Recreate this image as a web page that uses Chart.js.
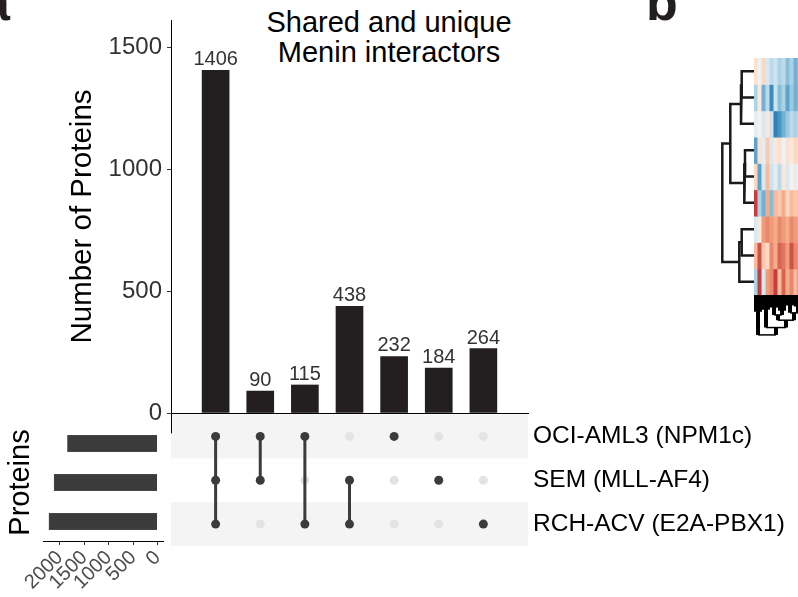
<!DOCTYPE html>
<html>
<head>
<meta charset="utf-8">
<script src="https://cdn.jsdelivr.net/npm/chart.js@4.4.1/dist/chart.umd.min.js"></script>
<style>
  html, body { margin: 0; padding: 0; background: #fff; overflow: hidden; }
  #wrap { position: relative; width: 798px; height: 597px; overflow: hidden;
          font-family: "Liberation Sans", Arial, Helvetica, sans-serif; }
  canvas { position: absolute; }
  .panel { position: absolute; font-weight: bold; font-size: 52px; line-height: 1; color: #231f20; }
  #title { position: absolute; left: 189px; width: 400px; top: 7px; text-align: center;
           font-size: 29px; line-height: 30px; color: #000; }
</style>
</head>
<body>
<div id="wrap">
  <div class="panel" style="left:-19px;top:-24px">a</div>
  <div class="panel" style="left:646px;top:-24px">b</div>
  <div id="title">Shared and unique<br>Menin interactors</div>
  <canvas id="sizes" width="170" height="197" style="left:0;top:400px"></canvas>
  <canvas id="matrix" width="798" height="160" style="left:0;top:400px"></canvas>
  <canvas id="bars" width="560" height="420" style="left:0;top:0"></canvas>
  <canvas id="rowTree" width="39" height="237" style="left:715px;top:58px"></canvas>
  <canvas id="heat" width="48" height="237" style="left:754px;top:58px"></canvas>
  <canvas id="colTree" width="48" height="42" style="left:754px;top:295px"></canvas>
</div>
<script>
// ---- data ----
const setNames = ['OCI-AML3 (NPM1c)', 'SEM (MLL-AF4)', 'RCH-ACV (E2A-PBX1)'];
const setSizes = [1843, 2118, 2223];
const intersectionCounts = [1406, 90, 115, 438, 232, 184, 264];
// which sets take part in each intersection (one entry per set, in setNames order)
const membership = [[1,1,1],[1,1,0],[1,0,1],[0,1,1],[1,0,0],[0,1,0],[0,0,1]];
const countTicks = [0, 500, 1000, 1500];
const sizeTicks = [0, 500, 1000, 1500, 2000];

// panel b: scaled abundance (rows = samples, columns = proteins)
const heatColumns = ['p1','p2','p3','p4','p5','p6','p7','p8','p9','p10','p11','p12'];
const heatRows = [
  [ 0.3, -0.1,  0.4, -0.3, -0.5, -0.4, -0.6, -0.5, -0.8, -0.6, -0.9, -0.7],
  [-0.6,  0.2, -0.9, -0.5, -1.2, -0.4, -0.8, -0.6, -1.0, -0.7, -0.9, -0.8],
  [-0.2,  0.1, -0.3,  0.2, -0.4, -1.3, -1.1, -0.9, -0.7, -0.5, -0.6, -0.4],
  [-1.0,  0.3, -0.2,  0.5, -0.3,  0.2,  0.3, -0.1,  0.3,  0.2,  0.4,  0.3],
  [ 0.4, -1.0, -0.3,  0.6, -0.4, -0.2, -0.5,  0.2, -0.3,  0.1, -0.2,  0.1],
  [ 1.3, -0.6, -0.9,  0.7, -0.8,  0.6,  0.5,  0.7,  0.4,  0.6,  0.5,  0.6],
  [-0.3,  0.2,  0.8,  0.9,  0.8,  0.7,  0.9,  0.8,  0.7,  0.9,  0.8,  0.7],
  [ 0.6,  1.2,  0.5,  0.4,  0.9,  0.7,  1.1,  1.0,  0.8,  1.2,  0.9,  0.8],
  [-0.6,  1.3, -0.3,  0.8,  0.9,  1.3,  0.6,  1.1,  0.7,  0.9,  0.6,  1.0]
];
// hierarchical clustering merges (negative = leaf, positive = earlier merge)
const rowMergeA = [-1, 1, -4, 3, 2, -7, 6, 5];
const rowMergeB = [-2, -3, -5, -6, 4, -8, -9, 7];
const rowMergeHeight = [12.3, 13, 9, 9.7, 23.7, 12.3, 14.7, 31.7];
const colMergeA = [-1, -3, -5, -7, -9, -11, 3, 5, 7, 2, 1];
const colMergeB = [-2, -4, -6, -8, -10, -12, 4, 6, 8, 9, 10];
const colMergeHeight = [16, 14, 12, 15, 10, 11, 19, 17, 24, 31, 38];

// ---- shared settings ----
Chart.defaults.font.family = '"Liberation Sans", Arial, Helvetica, sans-serif';
Chart.defaults.color = '#000';
const base = {
  responsive: false, animation: false, devicePixelRatio: 1,
  plugins: { legend: { display: false }, tooltip: { enabled: false } }
};
const rowPos = setNames.map((_, i) => i + 1);
const colPos = intersectionCounts.map((_, i) => i + 1);
// keep tick-label overhang from shrinking the plotting area
function noOverhang(s) { s.paddingTop = 0; s.paddingBottom = 0; s.paddingLeft = 0; s.paddingRight = 0; }

// ---- intersection size bars ----
const barLabels = {
  id: 'barLabels',
  afterDatasetsDraw(chart) {
    const ctx = chart.ctx;
    ctx.save();
    ctx.font = '20px "Liberation Sans", Arial, sans-serif';
    ctx.fillStyle = '#333';
    ctx.textAlign = 'center';
    ctx.textBaseline = 'alphabetic';
    chart.getDatasetMeta(0).data.forEach((el, i) => {
      ctx.fillText(String(intersectionCounts[i]), el.x, el.y - 5);
    });
    ctx.restore();
  }
};

new Chart(document.getElementById('bars'), {
  type: 'bar',
  data: { datasets: [{
    data: intersectionCounts.map((v, i) => ({ x: colPos[i], y: v })),
    backgroundColor: '#231f20', barThickness: 27, borderWidth: 0
  }]},
  options: { ...base,
    layout: { padding: { left: 61, top: 20, right: 32, bottom: 7 } },
    scales: {
      x: { type: 'linear', min: 0, max: 8, offset: false,
           ticks: { display: false }, grid: { display: false, drawTicks: false },
           border: { display: true, color: '#000', width: 1 },
           afterFit: s => { s.height = 0; noOverhang(s); } },
      y: { min: 0, max: 1613,
           afterBuildTicks: s => { s.ticks = countTicks.map(v => ({ value: v })); },
           ticks: { font: { size: 24 }, color: '#333', padding: 5, callback: v => String(v) },
           grid: { drawOnChartArea: false, drawTicks: true, tickLength: 4, tickColor: '#333', tickWidth: 1 },
           border: { display: true, color: '#000', width: 1 },
           title: { display: true, text: 'Number of Proteins', font: { size: 29.5 }, color: '#000',
                    padding: { top: 4, bottom: 4 } },
           afterFit: s => { s.width = 110; noOverhang(s); } }
    }
  },
  plugins: [barLabels]
});

// ---- combination matrix ----
const matrixBands = {
  id: 'matrixBands',
  beforeDatasetsDraw(chart) {
    const { ctx, chartArea: a, scales: { y } } = chart;
    ctx.save();
    ctx.fillStyle = '#f4f4f4';
    rowPos.forEach((r, i) => {
      if (i % 2 === 0) {
        const t = y.getPixelForValue(r - 0.5), b = y.getPixelForValue(r + 0.5);
        ctx.fillRect(a.left, Math.min(t, b), a.right - a.left, Math.abs(b - t));
      }
    });
    // short continuation of the count axis into the matrix panel
    ctx.strokeStyle = '#000';
    ctx.lineWidth = 1;
    ctx.beginPath();
    ctx.moveTo(a.left + 0.5, a.top - 2);
    ctx.lineTo(a.left + 0.5, y.getPixelForValue(0.93));
    ctx.stroke();
    ctx.restore();
  }
};

const inactivePts = [], activePts = [], linkSets = [];
membership.forEach((m, c) => {
  const on = [];
  m.forEach((v, r) => {
    const p = { x: colPos[c], y: rowPos[r] };
    if (v) { activePts.push(p); on.push(p); } else inactivePts.push(p);
  });
  if (on.length > 1) linkSets.push(on);
});

new Chart(document.getElementById('matrix'), {
  type: 'scatter',
  data: { datasets: [
    { data: activePts, pointRadius: 4.5, backgroundColor: '#3b3b3b', borderWidth: 0, order: 0 },
    ...linkSets.map(pts => ({ data: pts, showLine: true, borderColor: '#3b3b3b', borderWidth: 3,
                              pointRadius: 0, order: 1 })),
    { data: inactivePts, pointRadius: 4.5, backgroundColor: '#e3e3e3', borderWidth: 0, order: 2 }
  ]},
  options: { ...base,
    layout: { padding: { left: 171, top: 14.5, right: 0, bottom: 14 } },
    scales: {
      x: { type: 'linear', min: 0, max: 8, display: false },
      y: { type: 'linear', position: 'right', min: 0.5, max: 3.5, reverse: true,
           afterBuildTicks: s => { s.ticks = rowPos.map(v => ({ value: v })); },
           ticks: { callback: v => setNames[v - 1], font: { size: 24.5 }, color: '#000', padding: 5 },
           grid: { display: false, drawTicks: false },
           border: { display: false },
           afterFit: s => { s.width = 270; noOverhang(s); } }
    }
  },
  plugins: [matrixBands]
});

// ---- set sizes ----
new Chart(document.getElementById('sizes'), {
  type: 'bar',
  data: { labels: setNames, datasets: [{
    data: setSizes, backgroundColor: '#3b3b3b', borderColor: '#555', borderWidth: 0.5,
    barThickness: 16.5
  }]},
  options: { ...base, indexAxis: 'y',
    layout: { padding: { left: 0, top: 24, right: 7, bottom: 0 } },
    scales: {
      x: { min: -111, max: 2334, reverse: true,
           afterBuildTicks: s => { s.ticks = sizeTicks.map(v => ({ value: v })); },
           ticks: { font: { size: 20 }, color: '#4d4d4d', minRotation: 45, maxRotation: 45, padding: 1,
                    autoSkip: false, callback: v => String(v) },
           grid: { drawOnChartArea: false, drawTicks: true, tickLength: 4, tickColor: '#333' },
           border: { display: true, color: '#000', width: 1 },
           afterFit: s => { s.height = 56; noOverhang(s); } },
      y: { ticks: { display: false }, grid: { display: false, drawTicks: false },
           border: { display: false },
           title: { display: true, text: 'Proteins', font: { size: 29 }, color: '#000',
                    padding: { top: 4, bottom: 4 } },
           afterFit: s => { s.width = 43.5; noOverhang(s); } }
    }
  }
});

// ---- panel b: heatmap with dendrograms ----
const rdbu = ['#2166ac','#4393c3','#92c5de','#d1e5f0','#f7f7f7','#fddbc7','#f4a582','#d6604d','#b2182b'];
function hexRgb(h) { return [1, 3, 5].map(i => parseInt(h.slice(i, i + 2), 16)); }
function heatColor(v) {
  const t = Math.max(0, Math.min(1, (v + 1.5) / 3)) * (rdbu.length - 1);
  const i = Math.min(Math.floor(t), rdbu.length - 2), f = t - i;
  const a = hexRgb(rdbu[i]), b = hexRgb(rdbu[i + 1]);
  return 'rgb(' + a.map((c, k) => Math.round(c + (b[k] - c) * f)).join(',') + ')';
}

new Chart(document.getElementById('heat'), {
  type: 'bar',
  data: { labels: heatColumns, datasets: heatRows.map(row => ({
    data: row.map(() => 1), backgroundColor: row.map(heatColor), borderWidth: 0,
    barPercentage: 1, categoryPercentage: 1, inflateAmount: 0.5, stack: 'cells'
  }))},
  options: { ...base, layout: { padding: 0 },
    scales: {
      x: { stacked: true, display: false },
      y: { stacked: true, min: 0, max: heatRows.length, reverse: true, display: false }
    }
  }
});

function dendroPaths(mergeA, mergeB, heights) {
  const nodes = [], paths = [];
  const node = id => id < 0 ? { p: -id, h: 0 } : nodes[id - 1];
  mergeA.forEach((a, k) => {
    const A = node(a), B = node(mergeB[k]), h = heights[k];
    paths.push([[A.p, A.h], [A.p, h], [B.p, h], [B.p, B.h]]);
    nodes.push({ p: (A.p + B.p) / 2, h });
  });
  return paths;
}
const treeLine = { showLine: true, borderColor: '#1a1a1a', pointRadius: 0, fill: false };

new Chart(document.getElementById('rowTree'), {
  type: 'scatter',
  data: { datasets: dendroPaths(rowMergeA, rowMergeB, rowMergeHeight).map(path => ({
    ...treeLine, borderWidth: 2.5, data: path.map(([p, h]) => ({ x: h, y: p }))
  }))},
  options: { ...base, layout: { padding: 0 },
    scales: {
      x: { type: 'linear', min: 0, max: 39, reverse: true, display: false },
      y: { type: 'linear', min: 0.5, max: heatRows.length + 0.5, reverse: true, display: false }
    }
  }
});

// column tree: many leaf branches render as a dense black fringe
new Chart(document.getElementById('colTree'), {
  type: 'scatter',
  data: { datasets: dendroPaths(colMergeA, colMergeB, colMergeHeight).map(path => ({
    ...treeLine, borderWidth: 1.5, borderColor: '#000',
    segment: { borderWidth: c => (c.p0.parsed.x === c.p1.parsed.x ? 4 : 1.5) },
    data: path.map(([p, h]) => ({ x: p, y: h }))
  }))},
  options: { ...base, layout: { padding: 0 },
    scales: {
      x: { type: 'linear', min: 0.5, max: heatColumns.length + 0.5, display: false },
      y: { type: 'linear', min: 0, max: 40, reverse: true, display: false }
    }
  }
});
</script>
</body>
</html>
